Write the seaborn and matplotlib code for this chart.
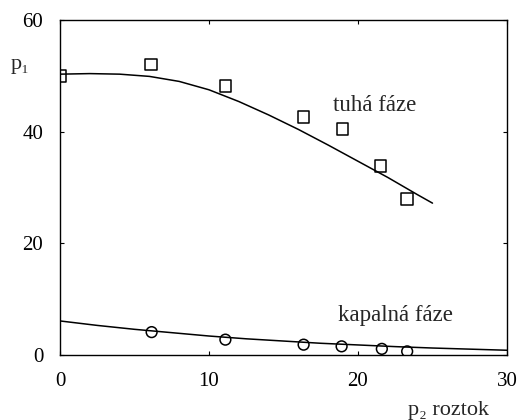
import matplotlib
matplotlib.use("Agg")
import matplotlib.pyplot as plt
import seaborn as sns
import pandas as pd

# measured points
p2_solid = [0.0, 6.1, 11.1, 16.35, 18.95, 21.5, 23.3]
p1_solid = [50.0, 52.0, 48.2, 42.6, 40.5, 33.9, 27.9]
p2_liquid = [6.15, 11.1, 16.35, 18.9, 21.6, 23.3]
p1_liquid = [4.1, 2.75, 1.85, 1.55, 1.1, 0.65]

# fitted curves
curve_solid_x = [0, 2, 4, 6, 8, 10, 12, 14, 16, 18, 20, 22, 24, 25]
curve_solid_y = [50.3, 50.4, 50.3, 49.9, 49.0, 47.5, 45.4, 43.0, 40.4, 37.6, 34.7, 31.8, 28.7, 27.2]
curve_liquid_x = [0, 2.5, 5, 7.5, 10, 12.5, 15, 17.5, 20, 22.5, 25, 27.5, 30]
curve_liquid_y = [6.1, 5.3, 4.6, 4.0, 3.4, 2.9, 2.5, 2.1, 1.8, 1.5, 1.25, 1.05, 0.85]

x_ticks = [0, 10, 20, 30]
y_ticks = [0, 20, 40, 60]

sns.set_style("ticks")
plt.rcParams['font.family'] = ['Liberation Serif', 'DejaVu Serif']

fig = plt.figure(figsize=(5.21, 4.20), dpi=100)
ax = fig.add_axes([60/521, 65/420, 447/521, 335/420])

sns.lineplot(x=curve_solid_x, y=curve_solid_y, ax=ax, color='black', lw=1.1, sort=False)
sns.lineplot(x=curve_liquid_x, y=curve_liquid_y, ax=ax, color='black', lw=1.1, sort=False)
sns.scatterplot(x=p2_solid, y=p1_solid, ax=ax, marker='s', s=70, facecolor='none',
                edgecolor='black', linewidth=1.1, zorder=3)
sns.scatterplot(x=p2_liquid, y=p1_liquid, ax=ax, marker='o', s=60, facecolor='none',
                edgecolor='black', linewidth=1.1, zorder=3)

ax.set_xlim(0, 30)
ax.set_ylim(0, 60)
ax.set_xticks(x_ticks)
ax.set_yticks(y_ticks)
ax.set_xticklabels([str(t) for t in x_ticks])
ax.set_yticklabels([str(t) for t in y_ticks])
ax.tick_params(direction='in', length=3, width=0.8, labelsize=15, pad=12,
               top=True, right=True, colors='black')
for s in ax.spines.values():
    s.set_visible(True)
    s.set_linewidth(1.0)
    s.set_color('black')

ax.set_xlabel('')
ax.set_ylabel('')
fig.text(20/521, 1 - 64/420, 'p₁', fontsize=16, ha='center', va='center')
fig.text(448/521, 1 - 410/420, 'p₂ roztok', fontsize=16, ha='center', va='center')
ax.text(18.3, 43.7, 'tuhá fáze', fontsize=16.5, ha='left', va='baseline')
ax.text(18.66, 6.1, 'kapalná fáze', fontsize=16.5, ha='left', va='baseline')

fig.savefig('out.png', dpi=100)
